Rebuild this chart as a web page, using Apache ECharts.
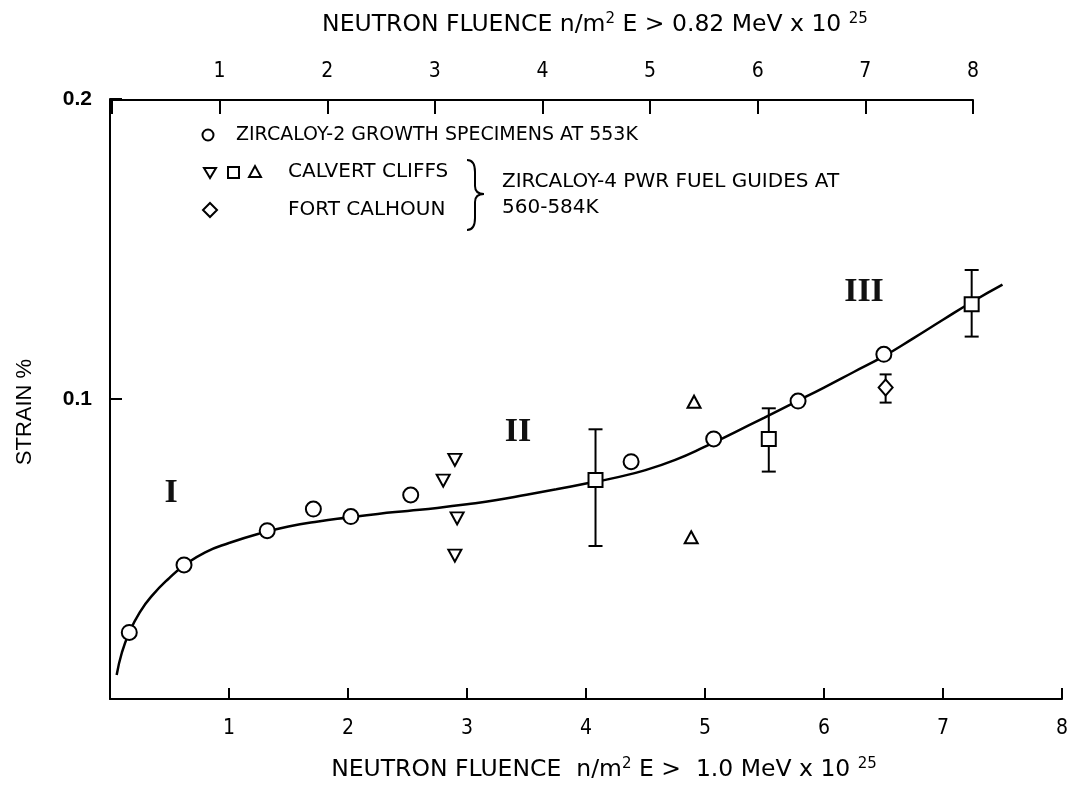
<!DOCTYPE html>
<html><head><meta charset="utf-8">
<script src="https://cdn.jsdelivr.net/npm/echarts@6/dist/echarts.min.js"></script>
<style>html,body{margin:0;padding:0;background:#fff}#c{width:1071px;height:791px}</style>
</head><body><div id="c"></div>
<script>
// ---- data ----
const xTicksBottom = [0, 1, 2, 3, 4, 5, 6, 7, 8];
const xTicksTop = [0, 1, 2, 3, 4, 5, 6, 7, 8];
const yTicks = [0, 0.1, 0.2];

const zircaloy2 = [[0.162,0.0222],[0.622,0.0447],[1.321,0.0561],[1.709,0.0633],[2.024,0.0608],[2.527,0.068],[4.379,0.0791],[5.073,0.0867],[5.782,0.0993],[6.503,0.1149]];
const calvertDown = [[2.898,0.0797],[2.80,0.0728],[2.917,0.0602],[2.898,0.0478]];
const calvertSquare = [[4.08,0.073],[5.536,0.0867],[7.241,0.1316]];
const calvertSquareErr = [[4.08,0.051,0.0899],[5.536,0.0758,0.0969],[7.241,0.1208,0.143]];
const calvertUp = [[4.908,0.0991],[4.884,0.0539]];
const fortCalhoun = [[6.518,0.1038]];
const fortCalhounErr = [[6.518,0.0988,0.1082]];
const fitCurve = [[0.056,0.008],[0.1,0.0155],[0.162,0.0222],[0.25,0.0289],[0.35,0.0343],[0.5,0.0404],[0.622,0.0445],[0.8,0.0489],[1.0,0.052],[1.25,0.0551],[1.5,0.0575],[1.75,0.0592],[2.0,0.0605],[2.25,0.0617],[2.5,0.0627],[2.75,0.0637],[3.0,0.0649],[3.25,0.0663],[3.5,0.0681],[3.75,0.0699],[4.0,0.0718],[4.25,0.0738],[4.5,0.0763],[4.75,0.0797],[5.0,0.0841],[5.25,0.0889],[5.5,0.0938],[5.75,0.0988],[6.0,0.1038],[6.25,0.109],[6.5,0.1142],[6.75,0.1202],[7.0,0.1264],[7.25,0.1325],[7.5,0.1381]];

const FONT = "'DejaVu Sans','Liberation Sans',sans-serif";
const NARROW = "'DejaVu Sans Condensed','DejaVu Sans',sans-serif";
const SANS = "'Liberation Sans','DejaVu Sans',sans-serif";
const SERIF = "'Liberation Serif','DejaVu Serif',serif";

const chart = echarts.init(document.getElementById('c'), null, {renderer: 'canvas'});

function errRender(cap) {
  return function (params, api) {
    const x = api.value(0), lo = api.value(1), hi = api.value(2);
    const a = api.coord([x, lo]), b = api.coord([x, hi]);
    const st = {stroke: '#000', lineWidth: 2, fill: null};
    return {type: 'group', children: [
      {type: 'line', shape: {x1: a[0], y1: a[1], x2: b[0], y2: b[1]}, style: st},
      {type: 'line', shape: {x1: a[0]-cap, y1: a[1], x2: a[0]+cap, y2: a[1]}, style: st},
      {type: 'line', shape: {x1: b[0]-cap, y1: b[1], x2: b[0]+cap, y2: b[1]}, style: st}
    ]};
  };
}

const hollow = {color: '#fff', borderColor: '#000', borderWidth: 2, opacity: 1};
const tickFmt = v => (v === 0 ? '' : String(v));
const supRich = {sup: {fontSize: 15, verticalAlign: 'top', padding: [0,0,12,0], fontFamily: FONT, fill: '#000'}};
const braceStyle = {fill: null, stroke: '#000', lineWidth: 2};

const option = {
  animation: false,
  backgroundColor: '#fff',
  grid: [
    {left: 110, right: 6, top: 99, bottom: 92},
    {left: 112, width: 861, top: 100, bottom: 92}
  ],
  xAxis: [
    {gridIndex: 0, type: 'value', min: xTicksBottom[0], max: xTicksBottom[xTicksBottom.length-1], interval: 1,
     axisLine: {show: true, onZero: false, lineStyle: {color: '#000', width: 2}},
     axisTick: {show: true, inside: true, length: 11, lineStyle: {color: '#000', width: 2}},
     axisLabel: {formatter: tickFmt, color: '#000', fontFamily: NARROW, fontSize: 21, margin: 19},
     splitLine: {show: false}},
    {gridIndex: 1, type: 'value', position: 'top', min: xTicksTop[0], max: xTicksTop[xTicksTop.length-1], interval: 1,
     axisLine: {show: true, onZero: false, lineStyle: {color: '#000', width: 2}},
     axisTick: {show: true, inside: true, length: 14, lineStyle: {color: '#000', width: 2}},
     axisLabel: {formatter: tickFmt, color: '#000', fontFamily: NARROW, fontSize: 21, margin: 18},
     splitLine: {show: false}}
  ],
  yAxis: [
    {gridIndex: 0, type: 'value', min: yTicks[0], max: yTicks[yTicks.length-1], interval: 0.1,
     axisLine: {show: true, onZero: false, lineStyle: {color: '#000', width: 2}},
     axisTick: {show: true, inside: true, length: 12, lineStyle: {color: '#000', width: 2}},
     axisLabel: {formatter: v => (v === 0 ? '' : v.toFixed(1)), color: '#000', fontFamily: SANS, fontWeight: 'bold', fontSize: 21, margin: 18},
     splitLine: {show: false}},
    {gridIndex: 1, type: 'value', show: false, min: 0, max: 1}
  ],
  graphic: [
    {type: 'text', x: 595, y: 25, style: {text: 'NEUTRON FLUENCE n/m{sup|2} E > 0.82 MeV x 10 {sup|25}', rich: supRich, font: '23.5px ' + FONT, fill: '#000', align: 'center', verticalAlign: 'middle'}},
    {type: 'text', x: 604, y: 770, style: {text: 'NEUTRON FLUENCE  n/m{sup|2} E >  1.0 MeV x 10 {sup|25}', rich: supRich, font: '23.5px ' + FONT, fill: '#000', align: 'center', verticalAlign: 'middle'}},
    {type: 'text', x: 25, y: 412, rotation: Math.PI/2, style: {text: 'STRAIN %', font: '22px ' + SANS, fill: '#000', align: 'center', verticalAlign: 'middle'}},
    // region labels
    {type: 'text', x: 171, y: 493, style: {text: 'I', font: 'bold 34px ' + SERIF, fill: '#111', align: 'center', verticalAlign: 'middle'}},
    {type: 'text', x: 518, y: 432, style: {text: 'II', font: 'bold 34px ' + SERIF, fill: '#111', align: 'center', verticalAlign: 'middle'}},
    {type: 'text', x: 864, y: 292, style: {text: 'III', font: 'bold 34px ' + SERIF, fill: '#111', align: 'center', verticalAlign: 'middle'}},
    // legend
    {type: 'circle', shape: {cx: 208, cy: 135, r: 5.5}, style: {fill: '#fff', stroke: '#000', lineWidth: 2}},
    {type: 'text', x: 236, y: 135, style: {text: 'ZIRCALOY-2 GROWTH SPECIMENS AT 553K', font: '19px ' + FONT, fill: '#000', align: 'left', verticalAlign: 'middle'}},
    {type: 'polygon', shape: {points: [[204,168],[216,168],[210,178]]}, style: {fill: '#fff', stroke: '#000', lineWidth: 2}},
    {type: 'rect', shape: {x: 228, y: 167, width: 11, height: 11}, style: {fill: '#fff', stroke: '#000', lineWidth: 2}},
    {type: 'polygon', shape: {points: [[249,177],[261,177],[255,166]]}, style: {fill: '#fff', stroke: '#000', lineWidth: 2}},
    {type: 'text', x: 288, y: 172, style: {text: 'CALVERT CLIFFS', font: '20px ' + FONT, fill: '#000', align: 'left', verticalAlign: 'middle'}},
    {type: 'polygon', shape: {points: [[210,203],[217,210],[210,217],[203,210]]}, style: {fill: '#fff', stroke: '#000', lineWidth: 2}},
    {type: 'text', x: 288, y: 210, style: {text: 'FORT CALHOUN', font: '20px ' + FONT, fill: '#000', align: 'left', verticalAlign: 'middle'}},
    // brace
    {type: 'bezierCurve', shape: {x1: 467, y1: 160, cpx1: 475, cpy1: 160, x2: 475, y2: 172}, style: braceStyle},
    {type: 'line', shape: {x1: 475, y1: 172, x2: 475, y2: 186}, style: braceStyle},
    {type: 'bezierCurve', shape: {x1: 475, y1: 186, cpx1: 475, cpy1: 194, x2: 484, y2: 194}, style: braceStyle},
    {type: 'bezierCurve', shape: {x1: 484, y1: 194, cpx1: 475, cpy1: 194, x2: 475, y2: 202}, style: braceStyle},
    {type: 'line', shape: {x1: 475, y1: 202, x2: 475, y2: 218}, style: braceStyle},
    {type: 'bezierCurve', shape: {x1: 475, y1: 218, cpx1: 475, cpy1: 230, x2: 467, y2: 230}, style: braceStyle},
    {type: 'text', x: 502, y: 182, style: {text: 'ZIRCALOY-4 PWR FUEL GUIDES AT', font: '20px ' + FONT, fill: '#000', align: 'left', verticalAlign: 'middle'}},
    {type: 'text', x: 502, y: 208, style: {text: '560-584K', font: '20px ' + FONT, fill: '#000', align: 'left', verticalAlign: 'middle'}}
  ],
  series: [
    {type: 'line', name: 'fit', xAxisIndex: 0, yAxisIndex: 0, data: fitCurve, showSymbol: false, smooth: 0.5,
     lineStyle: {color: '#000', width: 2.5}, z: 2},
    {type: 'custom', name: 'sqErr', xAxisIndex: 0, yAxisIndex: 0, data: calvertSquareErr, renderItem: errRender(7), z: 3},
    {type: 'custom', name: 'fcErr', xAxisIndex: 0, yAxisIndex: 0, data: fortCalhounErr, renderItem: errRender(6), z: 3},
    {type: 'scatter', name: 'ZIRCALOY-2', data: zircaloy2, symbol: 'circle', symbolSize: 15, itemStyle: hollow, z: 5},
    {type: 'scatter', name: 'Calvert down', data: calvertDown, symbol: 'triangle', symbolRotate: 180, symbolSize: [13, 12], itemStyle: hollow, z: 5},
    {type: 'scatter', name: 'Calvert square', data: calvertSquare, symbol: 'rect', symbolSize: 14, itemStyle: hollow, z: 5},
    {type: 'scatter', name: 'Calvert up', data: calvertUp, symbol: 'triangle', symbolSize: [13, 12], itemStyle: hollow, z: 5},
    {type: 'scatter', name: 'Fort Calhoun', data: fortCalhoun, symbol: 'diamond', symbolSize: [14, 16], itemStyle: hollow, z: 5}
  ]
};
chart.setOption(option);
</script>
</body></html>
